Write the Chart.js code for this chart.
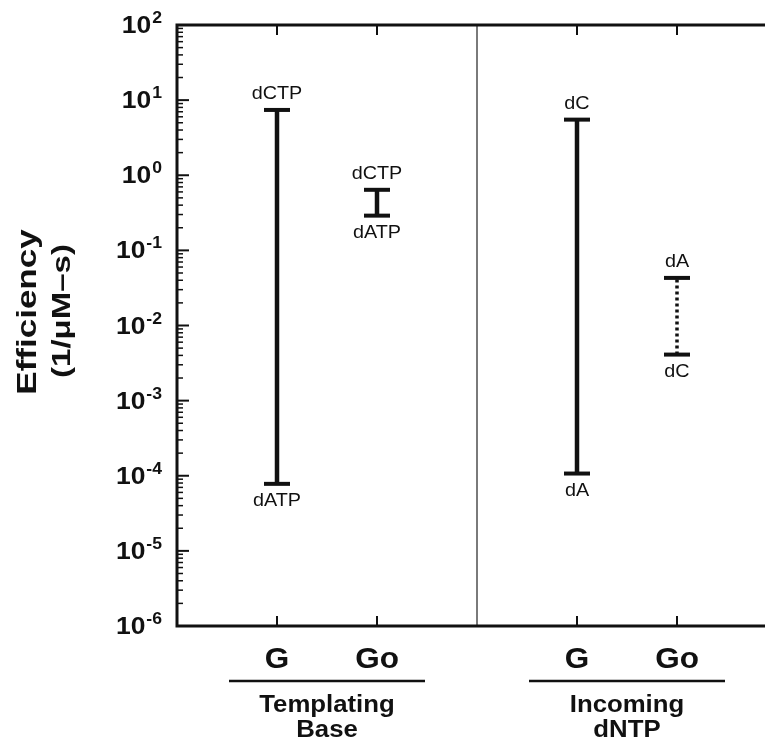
<!DOCTYPE html>
<html>
<head>
<meta charset="utf-8">
<script src="https://cdn.jsdelivr.net/npm/chart.js@4"></script>
<style>
  html, body { margin: 0; padding: 0; background: #fff; }
  canvas { display: block; }
</style>
</head>
<body>
<canvas id="effChart" width="765" height="741"></canvas>
<script>
// Data
const categories = ['G', 'Go', 'G', 'Go'];
const slots = [1, 2, 4, 5];                 // x slot of each category (slot 3 = divider)
const highValues = [7.4, 0.64, 5.5, 0.043];
const lowValues = [7.8e-5, 0.29, 1.07e-4, 0.0041];
const highLabels = ['dCTP', 'dCTP', 'dC', 'dA'];
const lowLabels = ['dATP', 'dATP', 'dA', 'dC'];
const dotted = [false, false, false, true];
const groupNames = [['Templating', 'Base'], ['Incoming', 'dNTP']];
const groupSlots = [[1, 2], [4, 5]];
const yExponents = [2, 1, 0, -1, -2, -3, -4, -5, -6];
const dividerSlot = 3;

const FONT = "'Liberation Sans', Arial, Helvetica, sans-serif";

function scaledText(ctx, text, x, y, font, sx, align, baseline) {
    ctx.save();
    ctx.translate(x, y);
    ctx.scale(sx, 1);
    ctx.font = font;
    ctx.textAlign = align;
    ctx.textBaseline = baseline;
    ctx.fillText(text, 0, 0);
    ctx.restore();
}

// Frame, ticks and divider under the data
const framePlugin = {
    id: 'frame',
    beforeDatasetsDraw(chart) {
        const { ctx, chartArea: a, scales: { x, y } } = chart;
        ctx.save();

        // divider between the two groups
        const dx = x.getPixelForValue(dividerSlot);
        ctx.strokeStyle = '#7a7a7a';
        ctx.lineWidth = 2;
        ctx.beginPath();
        ctx.moveTo(dx, a.top);
        ctx.lineTo(dx, a.bottom);
        ctx.stroke();

        ctx.strokeStyle = '#111';
        // left axis minor + major ticks (inward)
        for (let e = -6; e <= 2; e++) {
            const py = y.getPixelForValue(Math.pow(10, e));
            ctx.lineWidth = 2;
            ctx.beginPath();
            ctx.moveTo(a.left, py);
            ctx.lineTo(a.left + 12, py);
            ctx.stroke();
            if (e === 2) continue;
            for (let m = 2; m <= 9; m++) {
                const my = y.getPixelForValue(m * Math.pow(10, e));
                ctx.lineWidth = 1.5;
                ctx.beginPath();
                ctx.moveTo(a.left, my);
                ctx.lineTo(a.left + 6, my);
                ctx.stroke();
            }
        }

        // category ticks on bottom and top edges
        ctx.lineWidth = 2;
        slots.forEach(s => {
            const px = x.getPixelForValue(s);
            ctx.beginPath();
            ctx.moveTo(px, a.bottom);
            ctx.lineTo(px, a.bottom - 10);
            ctx.moveTo(px, a.top);
            ctx.lineTo(px, a.top + 10);
            ctx.stroke();
        });

        // axis lines
        ctx.lineWidth = 3;
        ctx.beginPath();
        ctx.moveTo(a.right, a.top);
        ctx.lineTo(a.left, a.top);
        ctx.lineTo(a.left, a.bottom);
        ctx.lineTo(a.right, a.bottom);
        ctx.stroke();
        ctx.restore();
    },
    afterDraw(chart) {
        const { ctx, chartArea: a, scales: { x, y } } = chart;
        ctx.save();
        ctx.fillStyle = '#111';

        // y tick labels 10^n
        yExponents.forEach(e => {
            const py = y.getPixelForValue(Math.pow(10, e));
            const expText = e >= 0 ? String(e) : '-' + Math.abs(e);
            ctx.font = 'bold 16px ' + FONT;
            const ew = ctx.measureText(expText).width * 1.1;
            scaledText(ctx, expText, 162, py - 2, 'bold 16px ' + FONT, 1.1, 'right', 'alphabetic');
            scaledText(ctx, '10', 162 - ew - 1, py + 8, 'bold 23px ' + FONT, 1.15, 'right', 'alphabetic');
        });

        // y axis title
        ctx.save();
        ctx.translate(28, 312);
        ctx.rotate(-Math.PI / 2);
        scaledText(ctx, 'Efficiency', 0, 0, 'bold 28px ' + FONT, 1.25, 'center', 'middle');
        ctx.restore();
        ctx.save();
        ctx.translate(63, 311);
        ctx.rotate(-Math.PI / 2);
        scaledText(ctx, '(1/\u03BCM\u2013s)', 0, 0, 'bold 26px ' + FONT, 1.27, 'center', 'middle');
        ctx.restore();

        // category labels
        categories.forEach((c, i) => {
            const px = x.getPixelForValue(slots[i]);
            scaledText(ctx, c, px, 668, 'bold 30px ' + FONT, 1.05, 'center', 'alphabetic');
        });

        // group lines and names
        groupNames.forEach((g, i) => {
            const cx = (x.getPixelForValue(groupSlots[i][0]) + x.getPixelForValue(groupSlots[i][1])) / 2;
            ctx.lineWidth = 2.5;
            ctx.strokeStyle = '#111';
            ctx.beginPath();
            ctx.moveTo(cx - 98, 681);
            ctx.lineTo(cx + 98, 681);
            ctx.stroke();
            scaledText(ctx, g[0], cx, 712, 'bold 23px ' + FONT, 1.12, 'center', 'alphabetic');
            scaledText(ctx, g[1], cx, 737, 'bold 23px ' + FONT, 1.12, 'center', 'alphabetic');
        });

        // range end labels
        categories.forEach((c, i) => {
            const px = x.getPixelForValue(slots[i]);
            const ty = y.getPixelForValue(highValues[i]);
            const by = y.getPixelForValue(lowValues[i]);
            scaledText(ctx, highLabels[i], px, ty - 16, '18px ' + FONT, 1.1, 'center', 'middle');
            scaledText(ctx, lowLabels[i], px, by + 17, '18px ' + FONT, 1.1, 'center', 'middle');
        });
        ctx.restore();
    }
};

const datasets = categories.map((c, i) => ({
    label: c,
    data: [{ x: slots[i], y: lowValues[i] }, { x: slots[i], y: highValues[i] }],
    borderColor: '#111',
    borderWidth: dotted[i] ? 3.5 : 4.5,
    borderDash: dotted[i] ? [3, 3] : [],
    pointStyle: 'line',
    pointRadius: 13,
    pointBorderWidth: 4,
    pointBorderColor: '#111',
    pointBackgroundColor: '#111',
    pointHoverRadius: 13,
    fill: false
}));

new Chart(document.getElementById('effChart'), {
    type: 'line',
    data: { datasets },
    options: {
        responsive: false,
        animation: false,
        events: [],
        layout: { autoPadding: false, padding: { left: 177, top: 25, right: 0, bottom: 115 } },
        plugins: { legend: { display: false }, tooltip: { enabled: false } },
        scales: {
            x: { type: 'linear', min: 0, max: 5.88, display: false },
            y: { type: 'logarithmic', min: 1e-6, max: 100, display: false }
        }
    },
    plugins: [framePlugin]
});
</script>
</body>
</html>
